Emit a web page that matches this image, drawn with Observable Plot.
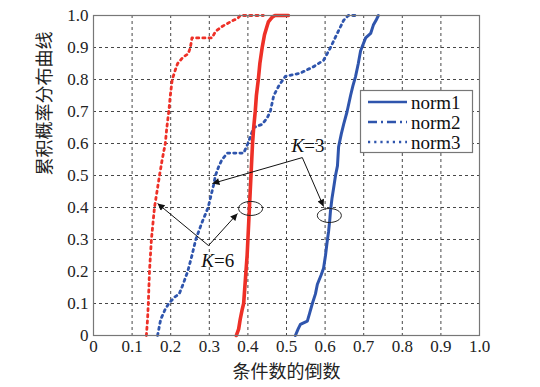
<!DOCTYPE html>
<html lang="en"><head><meta charset="utf-8">
<script src="https://cdn.jsdelivr.net/npm/d3@7"></script>
<script src="https://cdn.jsdelivr.net/npm/@observablehq/plot@0.6"></script>
<style>
body{margin:0;background:#fff;}
#wrap{position:relative;width:540px;height:387px;}
#legend{position:absolute;left:0;top:0;}
#wrap svg text{font-family:"Liberation Serif" !important;}
#wrap svg g.cjk text{font-family:"Noto Sans CJK SC" !important;}
</style></head><body><div id="wrap"></div>
<script>
// ---- data ----
const tickValues = [0,0.1,0.2,0.3,0.4,0.5,0.6,0.7,0.8,0.9,1.0];
const tickLabels = ["0","0.1","0.2","0.3","0.4","0.5","0.6","0.7","0.8","0.9","1.0"];
const xTitle = "条件数的倒数";
const yTitle = "累积概率分布曲线";
const legendNames = ["norm1","norm2","norm3"];

// K=6, norm1 (red solid)
const k6norm1 = [[0.370,0],[0.376,0.02],[0.380,0.05],[0.385,0.08],[0.389,0.10],[0.392,0.15],[0.395,0.2],[0.398,0.25],[0.400,0.3],[0.402,0.35],[0.404,0.40],[0.406,0.45],[0.408,0.50],[0.410,0.55],[0.412,0.60],[0.415,0.65],[0.419,0.70],[0.422,0.75],[0.427,0.80],[0.431,0.85],[0.437,0.90],[0.443,0.94],[0.448,0.96],[0.453,0.98],[0.463,0.995],[0.470,1.0],[0.505,1.0]];
// K=6, norm3 (red dotted)
const k6norm3 = [[0.137,0],[0.140,0.05],[0.142,0.10],[0.145,0.2],[0.150,0.3],[0.158,0.4],[0.171,0.5],[0.178,0.55],[0.186,0.6],[0.190,0.65],[0.195,0.7],[0.199,0.75],[0.204,0.8],[0.212,0.83],[0.218,0.85],[0.232,0.87],[0.245,0.88],[0.251,0.9],[0.255,0.93],[0.307,0.93],[0.316,0.95],[0.332,0.965],[0.347,0.975],[0.362,0.985],[0.373,0.99],[0.380,1.0],[0.440,1.0]];
// K=3, norm3 (blue dotted)
const k3norm3 = [[0.166,0],[0.174,0.05],[0.185,0.08],[0.195,0.1],[0.210,0.12],[0.222,0.13],[0.232,0.16],[0.244,0.2],[0.255,0.25],[0.265,0.3],[0.280,0.35],[0.297,0.4],[0.305,0.44],[0.311,0.47],[0.316,0.5],[0.325,0.53],[0.333,0.55],[0.347,0.57],[0.389,0.57],[0.400,0.6],[0.415,0.65],[0.437,0.66],[0.450,0.68],[0.458,0.7],[0.467,0.75],[0.480,0.78],[0.497,0.81],[0.536,0.82],[0.570,0.84],[0.596,0.86],[0.614,0.9],[0.635,0.953],[0.648,0.985],[0.660,1.0],[0.687,1.0]];
// K=3, norm1 (blue solid)
const k3norm1 = [[0.523,0],[0.530,0.02],[0.536,0.035],[0.554,0.045],[0.560,0.07],[0.567,0.1],[0.575,0.13],[0.580,0.16],[0.590,0.19],[0.596,0.21],[0.601,0.25],[0.605,0.29],[0.609,0.325],[0.612,0.36],[0.614,0.39],[0.618,0.43],[0.622,0.46],[0.627,0.5],[0.632,0.53],[0.635,0.59],[0.642,0.63],[0.648,0.66],[0.657,0.70],[0.666,0.75],[0.672,0.78],[0.679,0.81],[0.686,0.85],[0.692,0.89],[0.705,0.93],[0.718,0.944],[0.725,0.97],[0.732,0.985],[0.738,1.0]];

// annotations
const arrows = [
  {x1:0.541,y1:0.556,x2:0.308,y2:0.475},
  {x1:0.541,y1:0.556,x2:0.596,y2:0.403},
  {x1:0.298,y1:0.281,x2:0.166,y2:0.4125},
  {x1:0.298,y1:0.281,x2:0.373,y2:0.381}
];
const ellipses = [{x:0.407,y:0.397},{x:0.611,y:0.375}];
const kLabels = [{x:0.546,y:0.592,k:"K",v:"=3"},{x:0.312,y:0.234,k:"K",v:"=6"}];

// ---- styles ----
const RED = "#ee3027", BLUE = "#2f55ad";
const SERIF = "Liberation Serif";
const CJK = "Noto Sans CJK SC";

const ellipseSymbol = {
  draw(ctx) {
    const rx = 12, ry = 7, k = 0.5523;
    ctx.moveTo(rx, 0);
    ctx.bezierCurveTo(rx, ry*k, rx*k, ry, 0, ry);
    ctx.bezierCurveTo(-rx*k, ry, -rx, ry*k, -rx, 0);
    ctx.bezierCurveTo(-rx, -ry*k, -rx*k, -ry, 0, -ry);
    ctx.bezierCurveTo(rx*k, -ry, rx, -ry*k, rx, 0);
    ctx.closePath();
  }
};

const fmt = d => tickLabels[tickValues.findIndex(t => Math.abs(t - d) < 1e-9)];

const chart = Plot.plot({
  width: 540, height: 387,
  marginLeft: 93, marginRight: 61, marginTop: 15, marginBottom: 52,
  style: {fontFamily: SERIF, fontSize: "17px", background: "#fff", color: "#222"},
  x: {domain: [0, 1]},
  y: {domain: [0, 1]},
  marks: [
    Plot.gridX(tickValues, {stroke: "#333", strokeOpacity: 0.9, strokeDasharray: "3,3"}),
    Plot.gridY(tickValues, {stroke: "#333", strokeOpacity: 0.9, strokeDasharray: "3,3"}),
    Plot.axisX(tickValues, {tickSize: 0, tickPadding: 4, tickFormat: fmt, label: null, fontSize: 17, fontFamily: SERIF}),
    Plot.axisY(tickValues, {tickSize: 0, tickPadding: 5, tickFormat: fmt, label: null, fontSize: 17, fontFamily: SERIF}),
    Plot.line(k6norm3, {x: d => d[0], y: d => d[1], stroke: RED, strokeWidth: 2.8, strokeDasharray: "2.2,4"}),
    Plot.line(k3norm3, {x: d => d[0], y: d => d[1], stroke: BLUE, strokeWidth: 2.8, strokeDasharray: "2.2,4"}),
    Plot.line(k6norm1, {x: d => d[0], y: d => d[1], stroke: RED, strokeWidth: 3.6}),
    Plot.line(k3norm1, {x: d => d[0], y: d => d[1], stroke: BLUE, strokeWidth: 3}),
    Plot.frame({stroke: "#777", strokeWidth: 1.2}),
    Plot.link(arrows, {x1: "x1", y1: "y1", x2: "x2", y2: "y2", stroke: "#111", strokeWidth: 1, className: "annot-arrow"}),
    Plot.dot(ellipses, {x: "x", y: "y", symbol: ellipseSymbol, r: 5, fill: "none", stroke: "#222", strokeWidth: 1}),
    Plot.text(kLabels, {x: "x", y: "y", text: "k", textAnchor: "end", fontStyle: "italic", fontFamily: SERIF, fontSize: 19, fill: "#111"}),
    Plot.text(kLabels, {x: "x", y: "y", text: "v", textAnchor: "start", fontFamily: SERIF, fontSize: 19, fill: "#111"}),
    Plot.text([xTitle], {frameAnchor: "bottom", dy: 37, lineAnchor: "middle", fontFamily: CJK, fontSize: 18, fill: "#222", className: "cjk"}),
    Plot.text([yTitle], {frameAnchor: "left", dx: -48, rotate: -90, lineAnchor: "middle", fontFamily: CJK, fontSize: 18, fill: "#222", className: "cjk"})
  ]
});

// filled arrowheads
const ns = "http://www.w3.org/2000/svg";
const defs = document.createElementNS(ns, "defs");
const marker = document.createElementNS(ns, "marker");
marker.setAttribute("id", "ahead");
marker.setAttribute("viewBox", "0 0 10 10");
marker.setAttribute("refX", "10");
marker.setAttribute("refY", "5");
marker.setAttribute("markerUnits", "userSpaceOnUse");
marker.setAttribute("markerWidth", "11");
marker.setAttribute("markerHeight", "7");
marker.setAttribute("orient", "auto");
const mp = document.createElementNS(ns, "path");
mp.setAttribute("d", "M0,0L10,5L0,10z");
mp.setAttribute("fill", "#111");
marker.appendChild(mp);
defs.appendChild(marker);
chart.insertBefore(defs, chart.firstChild);
chart.querySelectorAll("g.annot-arrow path").forEach(p => p.setAttribute("marker-end", "url(#ahead)"));

const wrap = document.getElementById("wrap");
wrap.appendChild(chart);

// legend overlay
const styles = [null, "9,4,2,4", "2.2,4"];
const lg = d3.select(wrap).append("svg").attr("id", "legend").attr("width", 540).attr("height", 387);
lg.append("rect").attr("x", 360.5).attr("y", 90.5).attr("width", 112).attr("height", 62)
  .attr("fill", "#fff").attr("stroke", "#777").attr("stroke-width", 1.2);
legendNames.forEach((name, i) => {
  const cy = 102 + i * 20;
  const ln = lg.append("line").attr("x1", 368).attr("x2", 407).attr("y1", cy).attr("y2", cy)
    .attr("stroke", BLUE).attr("stroke-width", i === 0 ? 2.6 : 2.4);
  if (styles[i]) ln.attr("stroke-dasharray", styles[i]);
  lg.append("text").attr("x", 411).attr("y", cy).attr("dy", "0.35em")
    .attr("font-family", SERIF).attr("font-size", 19).attr("fill", "#111").text(name);
});

// force fonts inline
wrap.querySelectorAll("text").forEach(t => {
  const isCjk = t.closest("g.cjk") != null;
  t.style.setProperty("font-family", isCjk ? "'Noto Sans CJK SC'" : "'Liberation Serif'", "important");
});
</script>
</body></html>
